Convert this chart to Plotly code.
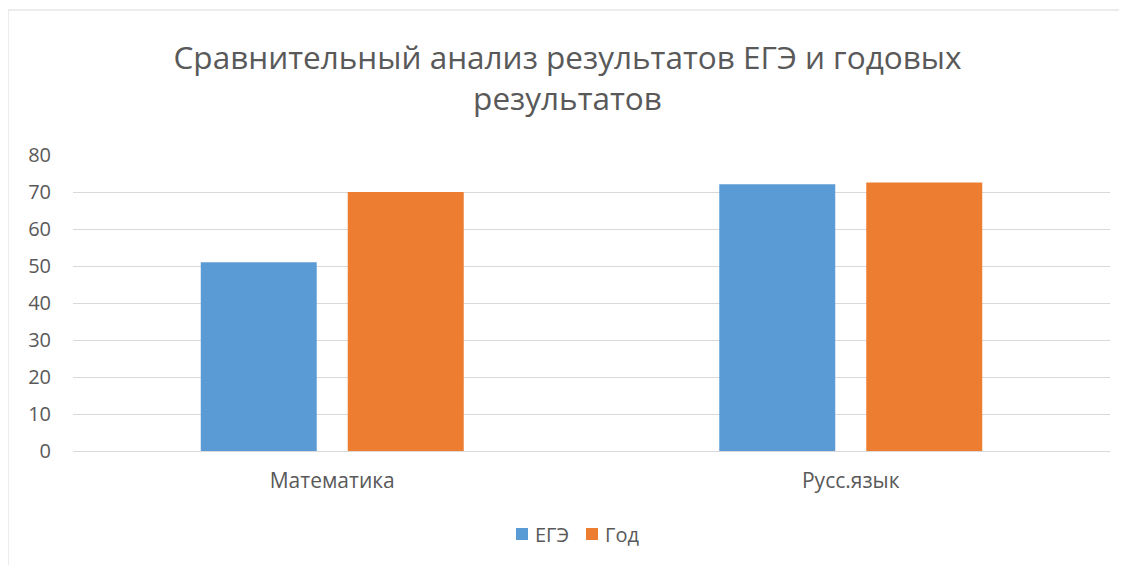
import plotly.graph_objects as go

categories = ["Математика", "Русс.язык"]
ege = [51.0, 72.1]
god = [70.0, 72.6]
series_names = ["ЕГЭ", "Год"]
series_colors = ["#5B9BD5", "#ED7D31"]
y_ticks = [0, 10, 20, 30, 40, 50, 60, 70, 80]

OFF = 8  # page body margin
W, H = 1127 - OFF, 565 - OFF
# plot area in window pixels
PL, PR, PT, PB = 73, 1110, 155, 451
L = PL - OFF
R = W - (PR - OFF)
T = PT - OFF
B = H - (PB - OFF)
pw = PR - PL
ph = PB - PT

def px_x(p):
    return (p - PL) / pw

def px_y(p):
    return (PB - p) / ph

fig = go.Figure()
for name, vals, col in zip(series_names, [ege, god], series_colors):
    fig.add_trace(go.Bar(x=categories, y=vals, name=name, marker_color=col, marker_line_width=0,
                         showlegend=False))

shapes = [dict(type="rect", xref="paper", yref="paper",
               x0=px_x(8), x1=px_x(1140), y0=px_y(580), y1=px_y(10),
               line=dict(color="#D9D9D9", width=1), fillcolor="rgba(0,0,0,0)", layer="below")]
annotations = []
legend_sq = [516, 586]
for name, col, sx in zip(series_names, series_colors, legend_sq):
    shapes.append(dict(type="rect", xref="paper", yref="paper",
                       x0=px_x(sx), x1=px_x(sx + 12), y0=px_y(540), y1=px_y(528),
                       line=dict(width=0), fillcolor=col))
    annotations.append(dict(text=name, xref="paper", yref="paper", x=px_x(sx + 17), y=px_y(534),
                            xanchor="left", yanchor="middle", showarrow=False,
                            font=dict(size=20, color="#595959")))

fig.update_layout(
    width=W, height=H,
    margin=dict(l=L, r=R, t=T, b=B),
    paper_bgcolor="white", plot_bgcolor="white",
    font=dict(family="Open Sans", color="#595959", size=20),
    title=dict(
        text="Сравнительный анализ результатов ЕГЭ и годовых<br>результатов",
        x=0.5, xanchor="center", y=1 - (69 - OFF) / H, yanchor="middle",
        font=dict(size=31.5, color="#595959", family="Open Sans"),
    ),
    barmode="group", bargap=0.433, bargroupgap=0.211,
    showlegend=False,
    xaxis=dict(showgrid=False, showline=False, ticks="", ticklabelstandoff=15,
               tickfont=dict(size=21, color="#595959")),
    yaxis=dict(range=[0, 80], tickvals=y_ticks, showgrid=True, gridcolor="#D9D9D9", gridwidth=1,
               zeroline=True, zerolinecolor="#D9D9D9", zerolinewidth=1, showline=False,
               ticks="", ticklabelstandoff=21, tickfont=dict(size=20, color="#595959")),
    shapes=shapes,
    annotations=annotations,
)

fig.write_html("out.html")
